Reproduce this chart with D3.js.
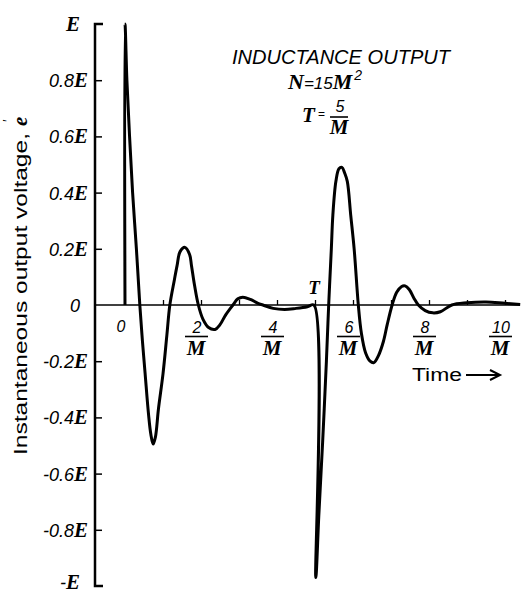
<!DOCTYPE html>
<html><head><meta charset="utf-8">
<script src="https://cdn.jsdelivr.net/npm/d3@7"></script>
<style>body{margin:0;background:#fff}</style>
</head><body>
<svg id="c" width="524" height="594"></svg>
<script>
// Time in units of 1/M, output voltage in units of E
const time = [0, 0, 0.05, 0.12, 0.2, 0.3, 0.39, 0.46, 0.53, 0.62, 0.68, 0.74, 0.8, 0.88, 1.0, 1.1, 1.18,
  1.3, 1.37, 1.45, 1.58, 1.7, 1.75, 1.83, 1.93, 2.05, 2.2, 2.37, 2.5, 2.65, 2.84, 2.97, 3.1, 3.3, 3.5, 3.63,
  3.9, 4.2, 4.5, 4.8, 4.97, 5.02, 5.1, 5.2, 5.3, 5.36, 5.43, 5.47, 5.55, 5.63, 5.71, 5.78, 5.85, 5.94, 6.03,
  6.14, 6.22, 6.33, 6.45, 6.55, 6.67, 6.8, 6.9, 7.03, 7.15, 7.28, 7.37, 7.48, 7.6, 7.72, 7.9, 8.1, 8.3, 8.6,
  9.0, 9.5, 10.0, 10.4];
const voltage = [0, 1.0, 0.8, 0.6, 0.4, 0.2, 0.0, -0.13, -0.245, -0.39, -0.46, -0.495, -0.47, -0.37, -0.245, -0.11, 0.0,
  0.09, 0.14, 0.19, 0.205, 0.18, 0.14, 0.07, 0.0, -0.05, -0.08, -0.087, -0.07, -0.035, 0.0, 0.022, 0.028, 0.02, 0.006, 0.0,
  -0.012, -0.016, -0.012, -0.006, 0.0, -0.97, -0.75, -0.49, -0.2, 0.0, 0.2, 0.32, 0.44, 0.485, 0.49, 0.47, 0.44, 0.32, 0.2,
  0.0, -0.1, -0.17, -0.2, -0.205, -0.18, -0.13, -0.07, 0.0, 0.045, 0.066, 0.068, 0.055, 0.025, 0.0, -0.02, -0.028, -0.024, 0.0,
  0.008, 0.011, 0.006, 0.002];

const yTickValues = [-1, -0.8, -0.6, -0.4, -0.2, 0, 0.2, 0.4, 0.6, 0.8, 1];
const yTickNumbers = ["-", "-0.8", "-0.6", "-0.4", "-0.2", "0", "0.2", "0.4", "0.6", "0.8", ""];
const yTickHasE = [true, true, true, true, true, false, true, true, true, true, true];
const xMinorTicks = [1, 2, 3, 4, 5, 6, 7, 8, 9, 10];
const xFractionValues = [2, 4, 6, 8, 10];
const xFractionNumerators = ["2", "4", "6", "8", "10"];

const SERIF = "'Liberation Serif', 'DejaVu Serif', serif";
const SANS = "'Liberation Sans', Arial, sans-serif";

const svg = d3.select("#c");
svg.append("rect").attr("width", 524).attr("height", 594).attr("fill", "#fff");

const x = d3.scaleLinear().domain([0, 10]).range([125, 505]);
const y = d3.scaleLinear().domain([-1, 1]).range([586, 24]);
const axisX = 95;

// Y axis with inward ticks
const yAxis = d3.axisLeft(y).tickValues(yTickValues.filter(v => Math.abs(v) > 0.01 && Math.abs(v) < 0.99))
  .tickSize(-7).tickFormat("");
const gy = svg.append("g").attr("transform", `translate(${axisX},0)`).call(yAxis);
gy.select(".domain").remove();
gy.selectAll(".tick line").attr("stroke", "#000").attr("stroke-width", 1.5);
svg.append("path")
  .attr("d", `M${axisX + 8},${y(1)}H${axisX}V${y(-1)}H${axisX + 8}`)
  .attr("fill", "none").attr("stroke", "#000").attr("stroke-width", 2.5);

// Y tick labels
yTickValues.forEach((v, i) => {
  const whole = Math.abs(v) > 0.99 || v === 0;
  const t = svg.append("text")
    .attr("x", whole ? 80 : 88).attr("y", v < -0.99 ? y(v) + 3 : y(v) + 7)
    .attr("text-anchor", "end");
  if (yTickNumbers[i]) {
    t.append("tspan").text(yTickNumbers[i])
      .attr("font-family", SANS).attr("font-style", "italic").attr("font-size", 18);
  }
  if (yTickHasE[i]) {
    t.append("tspan").text("E")
      .attr("font-family", SERIF).attr("font-style", "italic").attr("font-weight", "bold").attr("font-size", 21);
  }
});

// X axis line and ticks
svg.append("line").attr("x1", axisX).attr("x2", 520).attr("y1", y(0)).attr("y2", y(0))
  .attr("stroke", "#000").attr("stroke-width", 1.5);
const xAxis = d3.axisTop(x).tickValues(xMinorTicks).tickSize(5).tickFormat("");
const gx = svg.append("g").attr("transform", `translate(0,${y(0)})`).call(xAxis);
gx.select(".domain").remove();
gx.selectAll(".tick line").attr("stroke", "#000").attr("stroke-width", 1.3);

// X labels: 0 and fractions n/M
svg.append("text").attr("x", x(0) - 4).attr("y", 332).attr("text-anchor", "middle")
  .attr("font-family", SANS).attr("font-style", "italic").attr("font-size", 16).text("0");
xFractionValues.forEach((v, i) => {
  const cx = x(v) - 5;
  svg.append("text").attr("x", cx + 1).attr("y", 333).attr("text-anchor", "middle")
    .attr("font-family", SANS).attr("font-style", "italic").attr("font-size", 16).text(xFractionNumerators[i]);
  svg.append("line").attr("x1", cx - 11).attr("x2", cx + 12).attr("y1", 336.5).attr("y2", 336.5)
    .attr("stroke", "#000").attr("stroke-width", 1.6);
  svg.append("text").attr("x", cx).attr("y", 355).attr("text-anchor", "middle")
    .attr("font-family", SERIF).attr("font-style", "italic").attr("font-weight", "bold").attr("font-size", 21).text("M");
});

// T label at the pulse end
svg.append("text").attr("x", x(5) - 1).attr("y", 294).attr("text-anchor", "middle")
  .attr("font-family", SERIF).attr("font-style", "italic").attr("font-weight", "bold").attr("font-size", 19).text("T");

// Time arrow label
svg.append("text").attr("x", 412).attr("y", 381)
  .attr("font-family", SANS).attr("font-size", 18)
  .attr("textLength", 50).attr("lengthAdjust", "spacingAndGlyphs").text("Time");
svg.append("path").attr("d", "M466,375H498").attr("stroke", "#000").attr("stroke-width", 2);
svg.append("path").attr("d", "M490,370L500,375L490,380").attr("fill", "none").attr("stroke", "#000").attr("stroke-width", 2);

// Y axis title
const yt = svg.append("g").attr("transform", "translate(27,455) rotate(-90)");
yt.append("text").attr("x", 0).attr("y", 0)
  .attr("font-family", SANS).attr("font-size", 19)
  .attr("textLength", 322).attr("lengthAdjust", "spacingAndGlyphs")
  .text("Instantaneous output voltage,");
yt.append("text").attr("x", 329).attr("y", 0)
  .attr("font-family", SERIF).attr("font-style", "italic").attr("font-weight", "bold").attr("font-size", 21).text("e");
yt.append("text").attr("x", 333).attr("y", -14)
  .attr("font-family", SERIF).attr("font-size", 14).text("′");

// Annotation block
svg.append("text").attr("x", 232).attr("y", 64)
  .attr("font-family", SANS).attr("font-style", "italic").attr("font-size", 20)
  .attr("textLength", 218).attr("lengthAdjust", "spacingAndGlyphs").text("INDUCTANCE OUTPUT");
const nt = svg.append("text").attr("x", 288).attr("y", 89);
nt.append("tspan").text("N").attr("font-family", SERIF).attr("font-style", "italic").attr("font-weight", "bold").attr("font-size", 22);
nt.append("tspan").text("=15").attr("font-family", SANS).attr("font-style", "italic").attr("font-size", 17);
nt.append("tspan").text("M").attr("font-family", SERIF).attr("font-style", "italic").attr("font-weight", "bold").attr("font-size", 22);
nt.append("tspan").text("2").attr("font-family", SANS).attr("font-style", "italic").attr("font-size", 14).attr("dy", -9).attr("dx", 2);
svg.append("text").attr("x", 302).attr("y", 122)
  .attr("font-family", SERIF).attr("font-style", "italic").attr("font-weight", "bold").attr("font-size", 21).text("T");
svg.append("text").attr("x", 318).attr("y", 118)
  .attr("font-family", SANS).attr("font-size", 12).text("=");
svg.append("text").attr("x", 340).attr("y", 112).attr("text-anchor", "middle")
  .attr("font-family", SANS).attr("font-style", "italic").attr("font-size", 16).text("5");
svg.append("line").attr("x1", 330).attr("x2", 348).attr("y1", 117).attr("y2", 117).attr("stroke", "#000").attr("stroke-width", 1.6);
svg.append("text").attr("x", 339).attr("y", 134).attr("text-anchor", "middle")
  .attr("font-family", SERIF).attr("font-style", "italic").attr("font-weight", "bold").attr("font-size", 21).text("M");

// Curve
const line = d3.line().x(d => x(d[0])).y(d => y(d[1])).curve(d3.curveCatmullRom.alpha(0.5));
svg.append("path").datum(d3.zip(time, voltage)).attr("d", line)
  .attr("fill", "none").attr("stroke", "#000").attr("stroke-width", 3).attr("stroke-linejoin", "round");
</script>
</body></html>
